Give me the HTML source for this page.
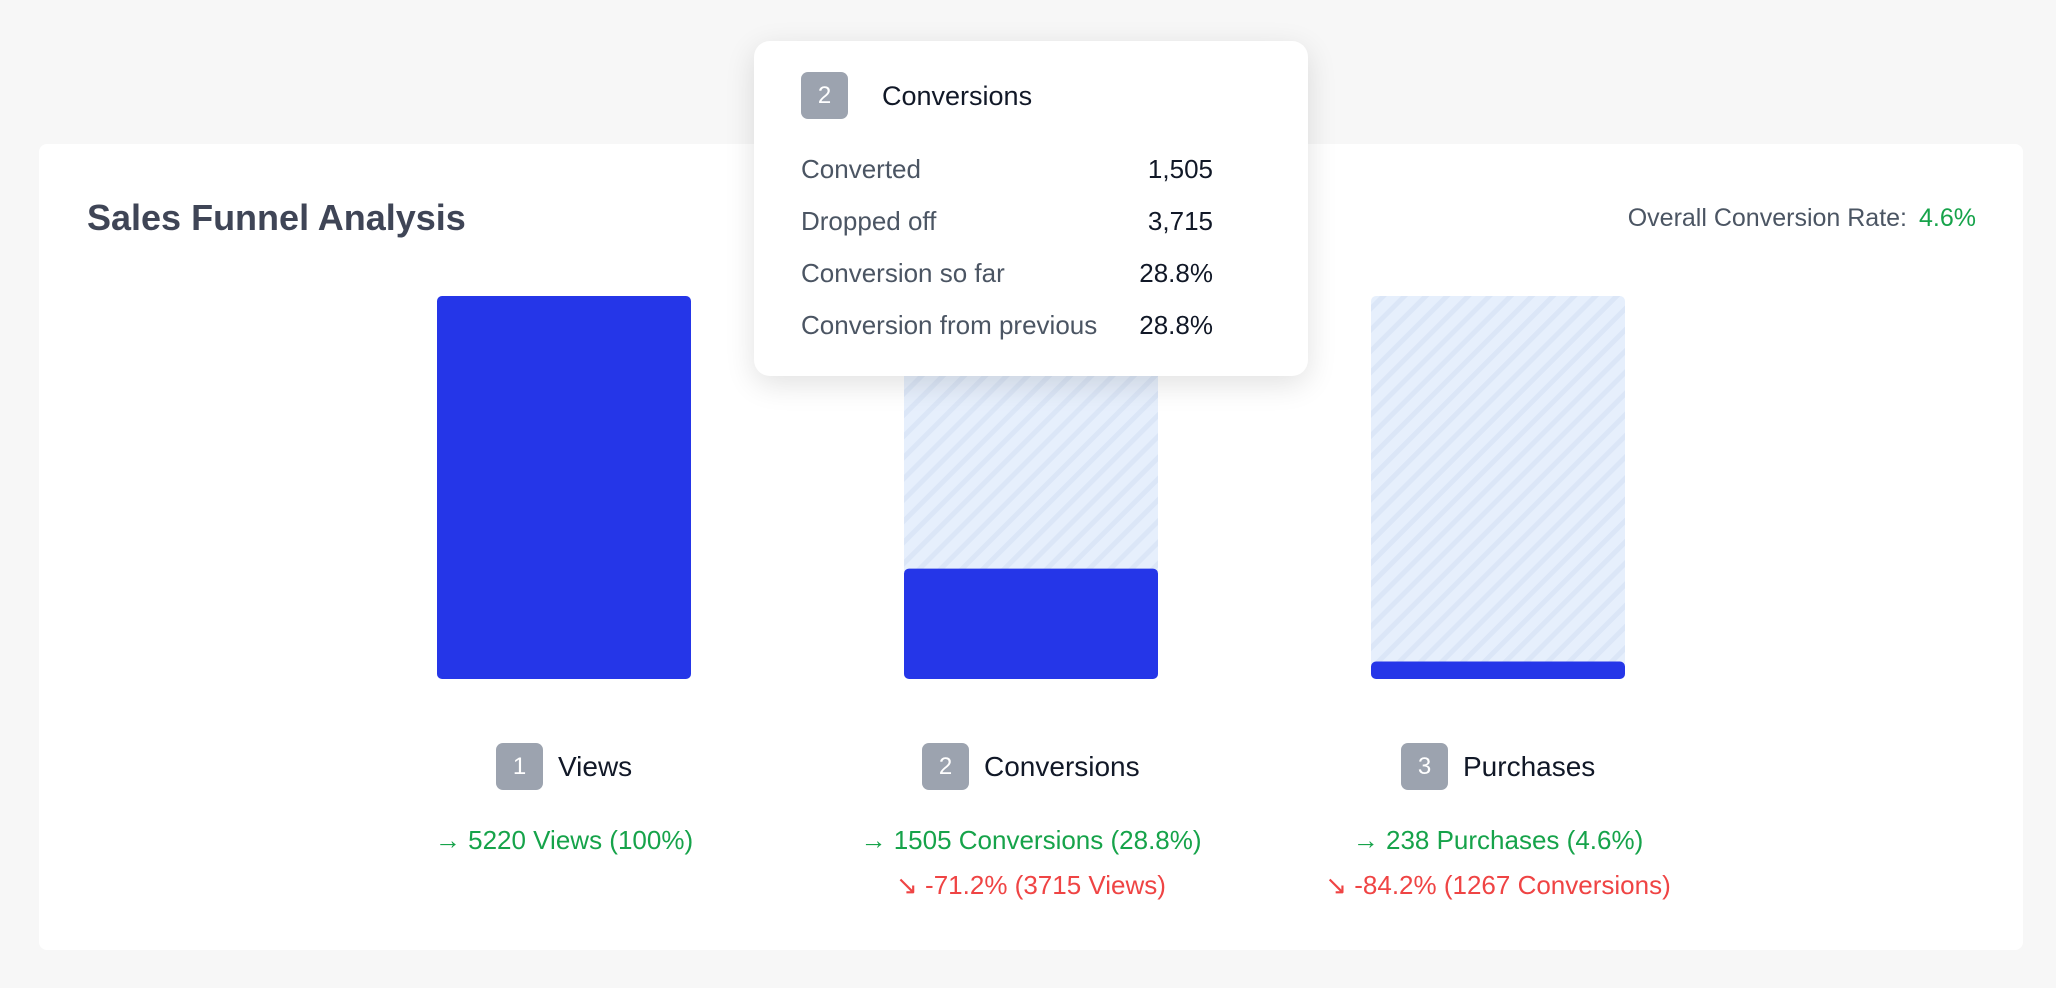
<!DOCTYPE html>
<html><head><meta charset="utf-8"><style>
html,body{margin:0;padding:0;width:2056px;height:988px;background:#f7f7f7;overflow:hidden;font-family:"Liberation Sans",sans-serif}
.abs{position:absolute}
#card{left:39px;top:144px;width:1984px;height:806px;background:#fff;border-radius:8px}
#title{left:87px;top:196px;font-size:36px;font-weight:bold;color:#3f4556;line-height:44px}
#overall{right:80px;top:203px;font-size:25px;color:#4b5563;line-height:30px}
#overall b{color:#16a34a;font-weight:normal;margin-left:12px}
.badge{width:47px;height:47px;border-radius:7px;background:#9ca3af;color:#fff;font-size:24px;line-height:47px;text-align:center}
.lbl{font-size:28px;color:#111827;line-height:47px;white-space:nowrap}
.g,.r{font-size:26px;line-height:32px;white-space:nowrap;text-align:center;width:460px}
.g{color:#16a34a}.r{color:#ef4444}
#tip{left:754px;top:41px;width:554px;height:335px;background:#fff;border-radius:16px;box-shadow:0 8px 30px rgba(0,0,0,.12)}
.row{position:absolute;left:47px;width:412px;font-size:26px;line-height:32px;color:#4b5563}
.row span{position:absolute;right:0;color:#111827}
</style></head><body>
<div id="card" class="abs"></div>
<div id="title" class="abs">Sales Funnel Analysis</div>
<div id="overall" class="abs">Overall Conversion Rate:<b>4.6%</b></div>
<svg id="chart" class="abs" style="left:0;top:0" width="2056" height="988">
<defs><pattern id="hatch" width="15" height="15" patternUnits="userSpaceOnUse" patternTransform="rotate(45)">
<rect width="15" height="15" fill="#e6effc"/><rect width="5" height="15" fill="#dbe6f7"/></pattern></defs>
<g id="bars"></g></svg>
<div id="labels"></div>
<div id="tip" class="abs">
<div class="badge abs" style="left:47px;top:31px">2</div>
<div class="abs" style="left:128px;top:38px;font-size:27px;color:#111827;line-height:34px">Conversions</div>
<div class="row" style="top:112px">Converted<span>1,505</span></div>
<div class="row" style="top:164px">Dropped off<span>3,715</span></div>
<div class="row" style="top:216px">Conversion so far<span>28.8%</span></div>
<div class="row" style="top:268px">Conversion from previous<span>28.8%</span></div>
</div>
<script>
const stages=["Views","Conversions","Purchases"];
const values=[5220,1505,238];
const greenText=["→ 5220 Views (100%)","→ 1505 Conversions (28.8%)","→ 238 Purchases (4.6%)"];
const redText=["","↘ -71.2% (3715 Views)","↘ -84.2% (1267 Conversions)"];
const NS="http://www.w3.org/2000/svg";
const top0=296,bot=679,bw=254,x0=564,step=467;
const maxV=values[0];
const y=v=>bot-(v/maxV)*(bot-top0);
const cx=i=>x0+i*step;
const g=document.getElementById('bars');
const L=document.getElementById('labels');
stages.forEach((s,i)=>{
  const bg=document.createElementNS(NS,'rect');
  
  
  bg.setAttribute('x',cx(i)-bw/2);bg.setAttribute('y',top0);bg.setAttribute('width',bw);bg.setAttribute('height',bot-top0);bg.setAttribute('rx',5);bg.setAttribute('fill','url(#hatch)');
  g.appendChild(bg);
  const b=document.createElementNS(NS,'rect');
  
  
  b.setAttribute('x',cx(i)-bw/2);b.setAttribute('y',y(values[i]));b.setAttribute('width',bw);b.setAttribute('height',bot-y(values[i]));b.setAttribute('rx',5);b.setAttribute('fill','#2536e8');
  g.appendChild(b);
  const wrap=document.createElement('div');
  
  
  wrap.className='abs';wrap.style.cssText='top:743px;display:flex;gap:15px;align-items:center';
  wrap.innerHTML='<div class="badge">'+(i+1)+'</div><div class="lbl">'+s+'</div>';
  L.appendChild(wrap);
  wrap.style.left=(cx(i)-wrap.offsetWidth/2)+'px';
  const gt=document.createElement('div');
  
  
  gt.className='abs g';gt.style.left=(cx(i)-230)+'px';gt.style.top='824px';gt.textContent=greenText[i];
  L.appendChild(gt);
  if(redText[i]){
    const rt=document.createElement('div');
    
    
    rt.className='abs r';rt.style.left=(cx(i)-230)+'px';rt.style.top='869px';rt.textContent=redText[i];
    L.appendChild(rt);
  }
});
</script>
</body></html>
